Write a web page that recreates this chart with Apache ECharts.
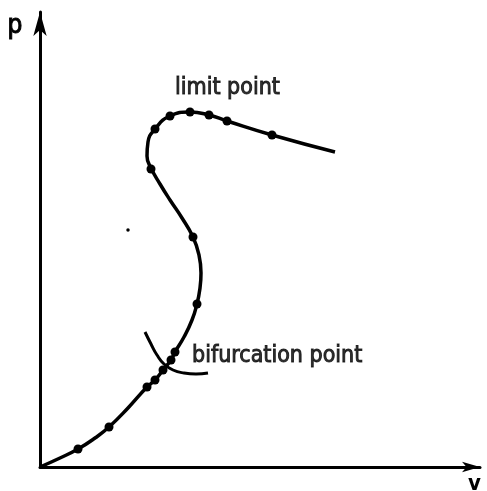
<!DOCTYPE html>
<html>
<head>
<meta charset="utf-8">
<script src="https://cdn.jsdelivr.net/npm/echarts@6/dist/echarts.min.js"></script>
<style>
  html, body { margin: 0; padding: 0; background: #fff; }
  #chart { width: 487px; height: 491px; }
</style>
</head>
<body>
<div id="chart"></div>
<script>
// Equilibrium path p(v): traced curve through the computed states
const pathV = [0, 20, 38, 55, 69, 88, 107, 115, 123, 131, 135, 144, 152, 157, 160, 161, 159, 153, 142, 130, 120, 111, 107, 108, 115, 130, 150, 169, 187, 232, 295];
const pathP = [0, 9, 18, 29, 40, 59, 80, 87, 97, 107, 115, 130, 147, 163, 179, 194, 212, 230, 249, 267, 283, 299, 311, 325, 338, 351, 355, 352, 346, 332, 315];

// Computed solution points on the path
const stepV = [38, 69, 107, 115, 123, 131, 135, 157, 153, 111, 115, 130, 150, 169, 187, 232];
const stepP = [18, 40, 80, 87, 97, 107, 115, 163, 230, 298, 338, 351, 355, 352, 346, 332];

// Secondary branch crossing the path at the bifurcation point
const branchV = [105, 111, 117, 124, 133, 144, 156, 168];
const branchP = [135, 123, 112, 103, 97, 94, 93, 94];

// Isolated point
const isoV = [88];
const isoP = [237];

// Annotations: anchor (v, p) and text
const noteV = [135, 152];
const noteP = [379, 111];
const noteText = ['limit point', 'bifurcation point'];

const zip = (a, b) => a.map((x, i) => [x, b[i]]);

const FONT = '"DejaVu Sans Condensed", "DejaVu Sans", sans-serif';
const INK = '#000';

const chart = echarts.init(document.getElementById('chart'), null, { renderer: 'canvas' });

chart.setOption({
  backgroundColor: '#fff',
  animation: false,
  grid: { left: 40, right: 7, top: 12, bottom: 24, containLabel: false },
  xAxis: {
    type: 'value', min: 0, max: 440,
    axisLine: { show: true, onZero: false, symbol: ['none', 'arrow'], symbolSize: [8, 18],
      lineStyle: { color: INK, width: 3 } },
    axisTick: { show: false }, axisLabel: { show: false }, splitLine: { show: false }
  },
  yAxis: {
    type: 'value', min: 0, max: 455,
    axisLine: { show: true, onZero: false, symbol: ['none', 'arrow'], symbolSize: [10, 24],
      lineStyle: { color: INK, width: 3 } },
    axisTick: { show: false }, axisLabel: { show: false }, splitLine: { show: false }
  },
  graphic: [
    { type: 'text', left: 7, top: 13,
      style: { text: 'p', font: '26px ' + FONT, fill: INK, stroke: INK, lineWidth: 1 } },
    { type: 'text', left: 468, top: 473,
      style: { text: 'v', font: 'bold 22px ' + FONT, fill: INK } }
  ],
  series: [
    {
      type: 'line', data: zip(pathV, pathP), smooth: 0.5, showSymbol: false, clip: false,
      lineStyle: { color: INK, width: 3.5 }
    },
    {
      type: 'line', data: zip(branchV, branchP), smooth: 0.5, showSymbol: false, clip: false,
      lineStyle: { color: INK, width: 3 }
    },
    {
      type: 'scatter', data: zip(stepV, stepP), symbol: 'circle', symbolSize: 9,
      itemStyle: { color: INK, opacity: 1 }
    },
    {
      type: 'scatter', data: zip(isoV, isoP), symbol: 'circle', symbolSize: 3.5,
      itemStyle: { color: INK, opacity: 1 }
    },
    {
      type: 'scatter', symbolSize: 0, clip: false,
      data: noteV.map((v, i) => ({ value: [v, noteP[i]], name: noteText[i] })),
      label: {
        show: true, position: 'right', distance: 0,
        formatter: p => p.name,
        fontFamily: FONT, fontSize: 23, color: INK,
        textBorderColor: INK, textBorderWidth: 0.9
      }
    }
  ]
});
</script>
</body>
</html>
